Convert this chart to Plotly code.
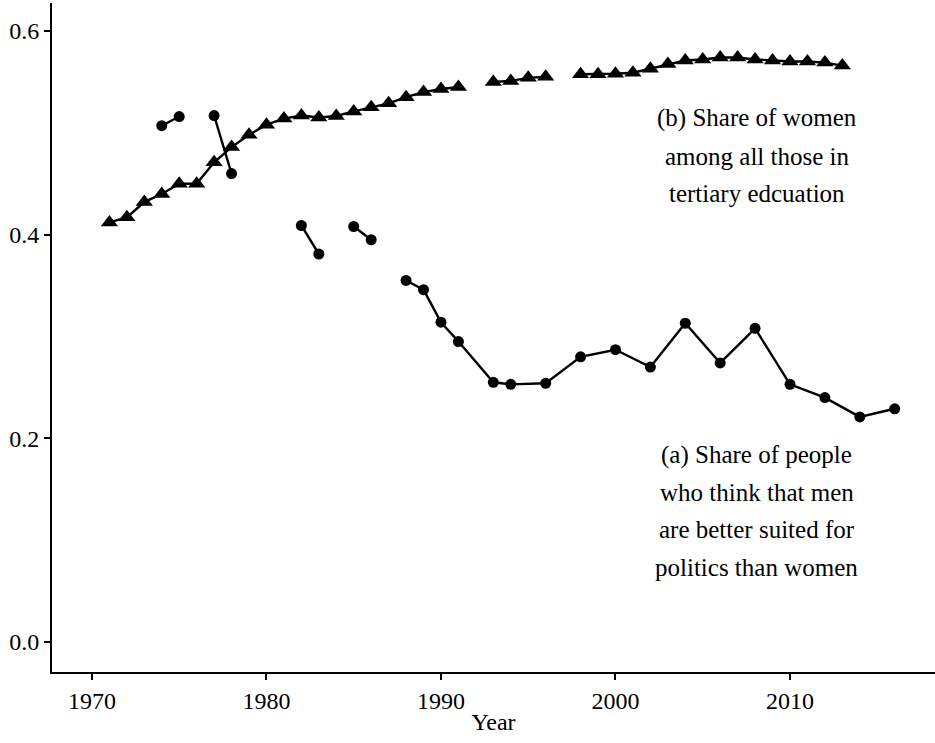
import plotly.graph_objects as go

# (a) Share of people who think men are better suited for politics than women
years_a = [1974, 1975, 1976, 1977, 1978, 1979, 1982, 1983, 1984, 1985, 1986, 1987,
           1988, 1989, 1990, 1991, 1993, 1994, 1996, 1998, 2000, 2002, 2004, 2006,
           2008, 2010, 2012, 2014, 2016]
share_a = [0.507, 0.516, None, 0.517, 0.460, None, 0.409, 0.381, None, 0.408, 0.395, None,
           0.355, 0.346, 0.314, 0.295, 0.255, 0.253, 0.254, 0.280, 0.287, 0.270, 0.313, 0.274,
           0.308, 0.253, 0.240, 0.221, 0.229]

# (b) Share of women among all those in tertiary education
years_b = list(range(1971, 2014))
share_b = [0.412, 0.417, 0.432, 0.440, 0.450, 0.450, 0.471, 0.486, 0.498, 0.508,
           0.514, 0.517, 0.515, 0.5165, 0.521, 0.525, 0.529, 0.535, 0.540, 0.543,
           0.545, None, 0.550, 0.551, 0.554, 0.555, None, 0.5575, 0.5575, 0.558,
           0.559, 0.563, 0.5676, 0.571, 0.572, 0.574, 0.574, 0.572, 0.571, 0.570,
           0.570, 0.569, 0.566]

y_ticks = [0.0, 0.2, 0.4, 0.6]
x_ticks = [1970, 1980, 1990, 2000, 2010]

label_a = ["(a) Share of people", "who think that men", "are better suited for", "politics than women"]
label_b = ["(b) Share of women", "among all those in", "tertiary edcuation"]

FONT = "Liberation Serif"

fig = go.Figure()
fig.add_trace(go.Scatter(
    x=years_b, y=share_b, mode="lines+markers", connectgaps=False,
    line=dict(color="black", width=2.4),
    marker=dict(symbol="triangle-up", size=15, color="black"),
    showlegend=False,
))
fig.add_trace(go.Scatter(
    x=years_a, y=share_a, mode="lines+markers", connectgaps=False,
    line=dict(color="black", width=2.4),
    marker=dict(symbol="circle", size=11, color="black"),
    showlegend=False,
))

# Text labels, one annotation per line
label_x = 2008.1
line_ys_b = [0.5146, 0.4772, 0.4409]
line_ys_a = [0.1836, 0.1463, 0.1100, 0.0736]
for txt, yy in list(zip(label_b, line_ys_b)) + list(zip(label_a, line_ys_a)):
    fig.add_annotation(x=label_x, y=yy, xref="x", yref="y", text=txt,
                       showarrow=False, xanchor="center", yanchor="middle",
                       font=dict(family=FONT, size=25, color="black"))

fig.update_layout(
    width=935, height=743,
    margin=dict(l=52, r=0, t=3, b=71),
    paper_bgcolor="white", plot_bgcolor="white",
    font=dict(family=FONT, size=24, color="black"),
)
fig.update_xaxes(
    range=[1967.71, 2018.31], tickvals=x_ticks, ticktext=[str(t) for t in x_ticks],
    showgrid=False, zeroline=False, showline=True, linecolor="black", linewidth=1.8,
    ticks="outside", ticklen=6, tickwidth=1.8, tickcolor="black",
    tickfont=dict(family=FONT, size=24, color="black"),
    title=dict(text="Year", font=dict(family=FONT, size=24, color="black"), standoff=0),
)
fig.update_yaxes(
    range=[-0.0295, 0.6275], tickvals=y_ticks, ticktext=[f"{t:.1f}" for t in y_ticks],
    showgrid=False, zeroline=False, showline=True, linecolor="black", linewidth=1.8,
    ticks="outside", ticklen=6, tickwidth=1.8, tickcolor="black",
    tickfont=dict(family=FONT, size=24, color="black"),
)

fig.write_html("out.html")
